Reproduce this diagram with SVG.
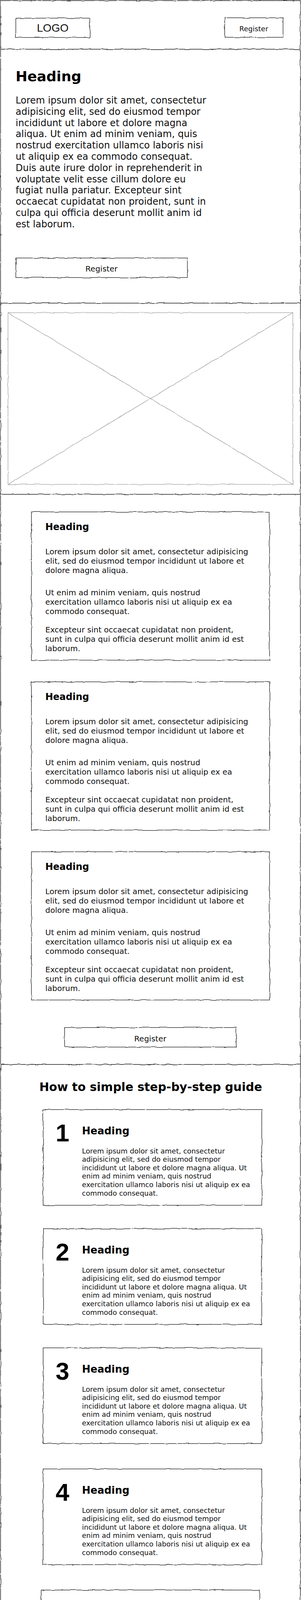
<svg xmlns="http://www.w3.org/2000/svg" width="771" height="4821" viewBox="0 0 771 4821">
<style>
.b{fill:none;stroke:#1a1a1a;stroke-width:1.3;filter:url(#wob)}
.f{fill:none;stroke:#1a1a1a;stroke-width:1.3;filter:url(#wob)}
.ph{fill:none;stroke:#9a9a9a;stroke-width:1.2}
.t{font-family:"DejaVu Sans",Verdana,sans-serif;fill:#111}
.h{font-family:"DejaVu Sans",Verdana,sans-serif;font-weight:bold;fill:#000}
.a{font-family:"Liberation Sans",Arial,sans-serif;fill:#111}
.n{font-family:"Liberation Sans",Arial,sans-serif;font-weight:bold;fill:#000;font-size:63px;text-anchor:middle}
.m{text-anchor:middle}
.p24{font-size:24px}
.p20{font-size:20px}
.p18{font-size:18px}
</style>
<defs>
<filter id="wob" x="-0.1" y="-0.3" width="1.2" height="1.6">
<feTurbulence type="fractalNoise" baseFrequency="0.05" numOctaves="2" seed="4"/>
<feDisplacementMap in="SourceGraphic" scale="4" xChannelSelector="R" yChannelSelector="G"/>
</filter>
<filter id="wobP" x="-0.05" y="-0.05" width="1.1" height="1.1">
<feTurbulence type="fractalNoise" baseFrequency="0.04" numOctaves="2" seed="2"/>
<feDisplacementMap in="SourceGraphic" scale="3" xChannelSelector="R" yChannelSelector="G"/>
</filter>
</defs>
<rect width="771" height="4821" fill="#fff"/>

<g id="frame">
<path class="f" d="M1.5 126 V1.5 H769.5 V126"/>
<path class="f" d="M1.5 126 H769.5 M1.5 126 V776 M769.5 126 V776"/>
<path class="f" d="M1.5 776 H769.5 M1.5 776 V1265.5 M769.5 776 V1265.5"/>
<path class="f" d="M1.5 1265.5 H769.5 M1.5 1265.5 V2725 M769.5 1265.5 V2725"/>
<path class="f" d="M1.5 2725 H769.5 M1.5 2725 V4485.5 M769.5 2725 V4485.5"/>
<path class="f" d="M1.5 4485.5 H769.5 M1.5 4485.5 V4819 H769.5 V4485.5"/>
</g>

<g id="header-logo">
<rect class="b" x="40.5" y="46.5" width="189.5" height="49.5"/>
<text class="a m" x="135" y="81" font-size="28">LOGO</text>
</g>
<g id="header-register">
<rect class="b" x="575.5" y="45.5" width="149.5" height="50"/>
<text class="t m" x="650" y="80" font-size="18">Register</text>
</g>

<g id="hero">
<text class="h" x="40" y="208" font-size="36">Heading</text>
<text class="t p24" x="40" y="265">
<tspan x="40" dy="0">Lorem ipsum dolor sit amet, consectetur</tspan>
<tspan x="40" dy="28.8">adipisicing elit, sed do eiusmod tempor</tspan>
<tspan x="40" dy="28.8">incididunt ut labore et dolore magna</tspan>
<tspan x="40" dy="28.8">aliqua. Ut enim ad minim veniam, quis</tspan>
<tspan x="40" dy="28.8">nostrud exercitation ullamco laboris nisi</tspan>
<tspan x="40" dy="28.8">ut aliquip ex ea commodo consequat.</tspan>
<tspan x="40" dy="28.8">Duis aute irure dolor in reprehenderit in</tspan>
<tspan x="40" dy="28.8">voluptate velit esse cillum dolore eu</tspan>
<tspan x="40" dy="28.8">fugiat nulla pariatur. Excepteur sint</tspan>
<tspan x="40" dy="28.8">occaecat cupidatat non proident, sunt in</tspan>
<tspan x="40" dy="28.8">culpa qui officia deserunt mollit anim id</tspan>
<tspan x="40" dy="28.8">est laborum.</tspan>
</text>
</g>
<g id="hero-register">
<rect class="b" x="40.5" y="660.5" width="439.5" height="50"/>
<text class="t m p20" x="260" y="695">Register</text>
</g>

<g id="image-placeholder" filter="url(#wobP)">
<rect class="ph" x="20.5" y="800.5" width="729.5" height="439.5"/>
<line class="ph" x1="20.5" y1="800.5" x2="750" y2="1240"/>
<line class="ph" x1="750" y1="800.5" x2="20.5" y2="1240"/>
</g>

<g id="card-1">
<rect class="b" x="80.5" y="1310.5" width="610" height="379.5"/>
<text class="h" x="116" y="1356.5" font-size="24">Heading</text>
<text class="t p20" x="116" y="1418.5"><tspan x="116" dy="0">Lorem ipsum dolor sit amet, consectetur adipisicing</tspan><tspan x="116" dy="24">elit, sed do eiusmod tempor incididunt ut labore et</tspan><tspan x="116" dy="24">dolore magna aliqua.</tspan></text>
<text class="t p20" x="116" y="1523.5"><tspan x="116" dy="0">Ut enim ad minim veniam, quis nostrud</tspan><tspan x="116" dy="24">exercitation ullamco laboris nisi ut aliquip ex ea</tspan><tspan x="116" dy="24">commodo consequat.</tspan></text>
<text class="t p20" x="116" y="1618.5"><tspan x="116" dy="0">Excepteur sint occaecat cupidatat non proident,</tspan><tspan x="116" dy="24">sunt in culpa qui officia deserunt mollit anim id est</tspan><tspan x="116" dy="24">laborum.</tspan></text>
</g>

<g id="card-2">
<rect class="b" x="80.5" y="1745.5" width="610" height="379.5"/>
<text class="h" x="116" y="1791.5" font-size="24">Heading</text>
<text class="t p20" x="116" y="1853.5"><tspan x="116" dy="0">Lorem ipsum dolor sit amet, consectetur adipisicing</tspan><tspan x="116" dy="24">elit, sed do eiusmod tempor incididunt ut labore et</tspan><tspan x="116" dy="24">dolore magna aliqua.</tspan></text>
<text class="t p20" x="116" y="1958.5"><tspan x="116" dy="0">Ut enim ad minim veniam, quis nostrud</tspan><tspan x="116" dy="24">exercitation ullamco laboris nisi ut aliquip ex ea</tspan><tspan x="116" dy="24">commodo consequat.</tspan></text>
<text class="t p20" x="116" y="2053.5"><tspan x="116" dy="0">Excepteur sint occaecat cupidatat non proident,</tspan><tspan x="116" dy="24">sunt in culpa qui officia deserunt mollit anim id est</tspan><tspan x="116" dy="24">laborum.</tspan></text>
</g>

<g id="card-3">
<rect class="b" x="80.5" y="2180.5" width="610" height="379.5"/>
<text class="h" x="116" y="2226.5" font-size="24">Heading</text>
<text class="t p20" x="116" y="2288.5"><tspan x="116" dy="0">Lorem ipsum dolor sit amet, consectetur adipisicing</tspan><tspan x="116" dy="24">elit, sed do eiusmod tempor incididunt ut labore et</tspan><tspan x="116" dy="24">dolore magna aliqua.</tspan></text>
<text class="t p20" x="116" y="2393.5"><tspan x="116" dy="0">Ut enim ad minim veniam, quis nostrud</tspan><tspan x="116" dy="24">exercitation ullamco laboris nisi ut aliquip ex ea</tspan><tspan x="116" dy="24">commodo consequat.</tspan></text>
<text class="t p20" x="116" y="2488.5"><tspan x="116" dy="0">Excepteur sint occaecat cupidatat non proident,</tspan><tspan x="116" dy="24">sunt in culpa qui officia deserunt mollit anim id est</tspan><tspan x="116" dy="24">laborum.</tspan></text>
</g>

<g id="cards-register">
<rect class="b" x="165.5" y="2630.5" width="439.5" height="50"/>
<text class="t m p20" x="385" y="2666">Register</text>
</g>

<g id="guide-title">
<text class="h m" x="386" y="2793" font-size="30">How to simple step-by-step guide</text>
</g>

<g id="step-1">
<rect class="b" x="110.5" y="2840.5" width="560" height="245"/>
<text class="n" x="160" y="2922">1</text>
<text class="h" x="210" y="2904" font-size="26">Heading</text>
<text class="t p18" x="210" y="2952.5"><tspan x="210" dy="0">Lorem ipsum dolor sit amet, consectetur</tspan><tspan x="210" dy="21.6">adipisicing elit, sed do eiusmod tempor</tspan><tspan x="210" dy="21.6">incididunt ut labore et dolore magna aliqua. Ut</tspan><tspan x="210" dy="21.6">enim ad minim veniam, quis nostrud</tspan><tspan x="210" dy="21.6">exercitation ullamco laboris nisi ut aliquip ex ea</tspan><tspan x="210" dy="21.6">commodo consequat.</tspan></text>
</g>

<g id="step-2">
<rect class="b" x="110.5" y="3145.5" width="560" height="245"/>
<text class="n" x="160" y="3227">2</text>
<text class="h" x="210" y="3209" font-size="26">Heading</text>
<text class="t p18" x="210" y="3257.5"><tspan x="210" dy="0">Lorem ipsum dolor sit amet, consectetur</tspan><tspan x="210" dy="21.6">adipisicing elit, sed do eiusmod tempor</tspan><tspan x="210" dy="21.6">incididunt ut labore et dolore magna aliqua. Ut</tspan><tspan x="210" dy="21.6">enim ad minim veniam, quis nostrud</tspan><tspan x="210" dy="21.6">exercitation ullamco laboris nisi ut aliquip ex ea</tspan><tspan x="210" dy="21.6">commodo consequat.</tspan></text>
</g>

<g id="step-3">
<rect class="b" x="110.5" y="3450.5" width="560" height="245"/>
<text class="n" x="160" y="3532">3</text>
<text class="h" x="210" y="3514" font-size="26">Heading</text>
<text class="t p18" x="210" y="3562.5"><tspan x="210" dy="0">Lorem ipsum dolor sit amet, consectetur</tspan><tspan x="210" dy="21.6">adipisicing elit, sed do eiusmod tempor</tspan><tspan x="210" dy="21.6">incididunt ut labore et dolore magna aliqua. Ut</tspan><tspan x="210" dy="21.6">enim ad minim veniam, quis nostrud</tspan><tspan x="210" dy="21.6">exercitation ullamco laboris nisi ut aliquip ex ea</tspan><tspan x="210" dy="21.6">commodo consequat.</tspan></text>
</g>

<g id="step-4">
<rect class="b" x="110.5" y="3760.5" width="560" height="245"/>
<text class="n" x="160" y="3842">4</text>
<text class="h" x="210" y="3824" font-size="26">Heading</text>
<text class="t p18" x="210" y="3872.5"><tspan x="210" dy="0">Lorem ipsum dolor sit amet, consectetur</tspan><tspan x="210" dy="21.6">adipisicing elit, sed do eiusmod tempor</tspan><tspan x="210" dy="21.6">incididunt ut labore et dolore magna aliqua. Ut</tspan><tspan x="210" dy="21.6">enim ad minim veniam, quis nostrud</tspan><tspan x="210" dy="21.6">exercitation ullamco laboris nisi ut aliquip ex ea</tspan><tspan x="210" dy="21.6">commodo consequat.</tspan></text>
</g>

<g id="step-5">
<rect class="b" x="105.5" y="4070.5" width="560" height="245"/>
<text class="n" x="155.5" y="4152">5</text>
<text class="h" x="205.5" y="4134" font-size="26">Heading</text>
<text class="t p18" x="205.5" y="4182.5"><tspan x="205.5" dy="0">Lorem ipsum dolor sit amet, consectetur</tspan><tspan x="205.5" dy="21.6">adipisicing elit, sed do eiusmod tempor</tspan><tspan x="205.5" dy="21.6">incididunt ut labore et dolore magna aliqua. Ut</tspan><tspan x="205.5" dy="21.6">enim ad minim veniam, quis nostrud</tspan><tspan x="205.5" dy="21.6">exercitation ullamco laboris nisi ut aliquip ex ea</tspan><tspan x="205.5" dy="21.6">commodo consequat.</tspan></text>
</g>

<g id="guide-register">
<rect class="b" x="105" y="4370.5" width="560.5" height="49.5"/>
<text class="t m p20" x="385" y="4405">Register</text>
</g>

<g id="footer-logo">
<rect class="b" x="211.5" y="4520.5" width="333" height="49.5"/>
<text class="a m" x="378" y="4556" font-size="28">LOGO</text>
</g>
<g id="footer-list" class="a" font-size="18">
<text x="110.5" y="4635">List Item</text>
<text x="110.5" y="4701.5">List Item</text>
<text x="110.5" y="4771.5">List Item</text>
<text x="362.5" y="4637.5">List Item</text>
<text x="362.5" y="4705">List Item</text>
<text x="362.5" y="4774.5">List Item</text>
<text x="586" y="4632.5">List Item</text>
<text x="586" y="4700">List Item</text>
<text x="586" y="4770">List Item</text>
</g>
</svg>
